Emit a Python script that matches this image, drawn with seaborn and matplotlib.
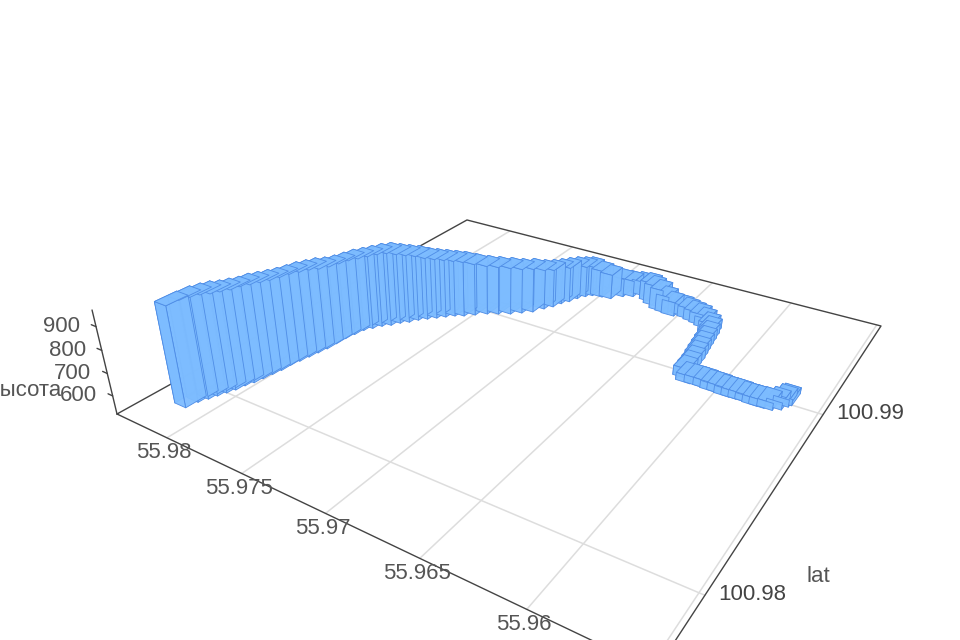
import numpy as np
import seaborn as sns
import matplotlib
matplotlib.use("Agg")
from matplotlib import pyplot as plt
from matplotlib import transforms as mtransforms
from mpl_toolkits.mplot3d import proj3d
from mpl_toolkits.mplot3d.art3d import Poly3DCollection

# values
lon = [55.98168,55.98155,55.98134,55.98118,55.98101,55.98084,55.98074,55.98057,55.98047,55.98037,
       55.98027,55.98024,55.98013,55.98002,55.97992,55.97981,55.97977,55.97973,55.97962,55.97950,
       55.97923,55.97895,55.97859,55.97831,55.97795,55.97766,55.97730,55.97693,55.97657,55.97620,
       55.97576,55.97529,55.97477,55.97422,55.97363,55.97315,55.97268,55.97233,55.97202,55.97182,
       55.97155,55.97134,55.97106,55.97077,55.97020,55.96966,55.96917,55.96866,55.96821,55.96744,55.96701,
       55.96643,55.96600,55.96556,55.96507,55.96462,55.96417,55.96374,55.96335,55.96297,55.96269,55.96256,
       55.96247,55.96239,55.96231,55.96223,55.96215,55.96211,55.96208,55.96175,55.96130,55.96081,55.96039,
       55.96002,55.95961,55.95924,55.95887,55.95851,55.95811,55.95776,55.95736,55.95700,55.95680,55.95670]
lat = [100.97902,100.97948,100.97981,100.98012,100.98043,100.98074,100.98111,100.98143,100.98180,100.98219,
       100.98257,100.98301,100.98341,100.98382,100.98423,100.98464,100.98512,100.98561,100.98605,100.98649,
       100.98681,100.98714,100.98740,100.98773,100.98799,100.98832,100.98859,100.98886,100.98913,100.98940,
       100.98960,100.98991,100.99025,100.99049,100.99076,100.99108,100.99140,100.99187,100.99223,100.99265,
       100.99299,100.99341,100.99376,100.99400,100.99410,100.99417,100.99461,100.99484,100.99515,100.99483,100.99459,
       100.99431,100.99425,100.99418,100.99440,100.99429,100.99418,100.99408,100.99395,100.99373,100.99337,100.99296,
       100.99253,100.99211,100.99169,100.99129,100.99089,100.99048,100.99007,100.98981,100.98983,100.98983,100.98978,
       100.98979,100.98974,100.98975,100.98976,100.98977,100.98972,100.98973,100.98976,100.98995,100.99025,100.99040]
height = [963,966,967,965,958,955,948,950,943,936,
          930,923,921,914,907,895,884,877,874,866,
          867,868,869,855,846,833,819,809,800,791,
          786,771,757,752,747,737,733,713,704,694,
          690,680,670,665,650,639,608,597,587,612,617,
          621,600,585,569,569,569,569,563,558,563,563,
          562,562,562,562,561,561,561,551,551,551,551,
          551,551,550,550,546,550,550,550,550,550,546]

lon_ticks = [55.98, 55.975, 55.97, 55.965, 55.96, 55.955]
lon_labels = ["55.98", "55.975", "55.97", "55.965", "55.96"]
lat_ticks = [100.98, 100.99]
lat_labels = ["100.98", "100.99"]
z_ticks = [600, 700, 800, 900]

lon_lim = (55.98366, 55.95476)
lat_lim = (100.97705, 100.99742)
z_lim = (517.5, 968.5)
bar_dlon = 0.00040
bar_dlat = 0.00045

sns.set_theme(style="white", font="Liberation Sans")
text_col = "#555555"
fig = plt.figure(figsize=(9.6, 6.4), dpi=100)
ax = fig.add_axes([0, -0.25, 1, 1.5], projection="3d")
ax.set_axis_off()
ax.set_autoscale_on(False)
ax.computed_zorder = False
ax.set_proj_type("ortho")  # stops Line3D masking points, the real camera is below

# camera: box coords (u, v, t) to the picture, with 2d view limits 0..960
cam = np.array([[345.0, 565.5, -30.6, 117.0],
                [58.7, -92.5, -123.0, 414.0],
                [-0.29526, 0.46155, -0.0613, 1.0]])
xr, yr, wr = cam
proj = np.array([xr, 800 * wr - yr, wr - np.array([0, 0, 0, 1.0]), wr])
scale = np.diag([1 / (lon_lim[1] - lon_lim[0]), 1 / (lat_lim[1] - lat_lim[0]), 1 / (z_lim[1] - z_lim[0]), 1.0])
scale[:3, 3] = [-lon_lim[0] * scale[0, 0], -lat_lim[0] * scale[1, 1], -z_lim[0] * scale[2, 2]]
cam_m = proj @ scale
ax.get_proj = lambda: cam_m
ax.viewLim.intervalx = (0, 960)
ax.viewLim.intervaly = (0, 960)
ax.set_xlim(lon_lim)
ax.set_ylim(lat_lim)
ax.set_zlim(z_lim)
ax.set_xticks([])
ax.set_yticks([])
ax.set_zticks([])

lo0, lo1 = lon_lim
la0, la1 = lat_lim
z0 = z_lim[0]

# floor grid
for t in lon_ticks:
    ax.plot([t, t], [la0, la1], [z0, z0], color="#dddddd", lw=1.1, zorder=1)
for t in lat_ticks:
    ax.plot([lo0, lo1], [t, t], [z0, z0], color="#dddddd", lw=1.1, zorder=1)

# floor box and height axis
edge_col = "#444444"
ax.plot([lo0, lo1, lo1, lo0, lo0], [la0, la0, la1, la1, la0], [z0] * 5, color=edge_col, lw=1, zorder=2)
ax.plot([lo0, lo0], [la0, la0], z_lim, color=edge_col, lw=1, zorder=2)
for z in z_ticks:
    ax.plot([lo0 + 0.00035, lo0], [la0, la0], [z, z], color=edge_col, lw=1, zorder=2)

def tick_label(x, y, z, s, dx, dy, ha, col):
    # plain 2d text at the projected tick, moved off it by a few pixels
    px, py, _ = proj3d.proj_transform(x, y, z, cam_m)
    tr = mtransforms.offset_copy(ax.transData, fig=fig, x=dx, y=dy, units="dots")
    ax.text2D(px, py, s, transform=tr, ha=ha, va="center", fontsize=16, color=col)

for t, s in zip(lon_ticks, lon_labels):
    tick_label(t, la0, z0, s, -3, -15, "center", text_col)
for t, s in zip(lat_ticks, lat_labels):
    tick_label(lo1, t, z0, s, 13, 1, "left", "#444444")
for z in z_ticks:
    tick_label(lo0, la0, z, str(z), -16, 0, "right", text_col)

fig.text(818 / 960, 1 - 576 / 640, "lat", ha="center", va="center", fontsize=16, color=text_col)
fig.text(62 / 960, 1 - 390 / 640, "высота", ha="right", va="center", fontsize=16, color=text_col)

# the bars
faces = []
for x, y, h in zip(lon, lat, height):
    a = (x - bar_dlon, y - bar_dlat)
    b = (x + bar_dlon, y - bar_dlat)
    c = (x + bar_dlon, y + bar_dlat)
    d = (x - bar_dlon, y + bar_dlat)
    corners = [a, b, c, d]
    faces.append([(p[0], p[1], h) for p in corners])
    for i in range(4):
        p, n = corners[i], corners[(i + 1) % 4]
        faces.append([(p[0], p[1], z0), (n[0], n[1], z0), (n[0], n[1], h), (p[0], p[1], h)])

bars = Poly3DCollection(faces, facecolor="#7dbcff", edgecolor="#4f8de6", linewidths=0.6, alpha=0.95, zorder=5)
ax.add_collection3d(bars, autolim=False)

fig.savefig("out.png", dpi=100)
